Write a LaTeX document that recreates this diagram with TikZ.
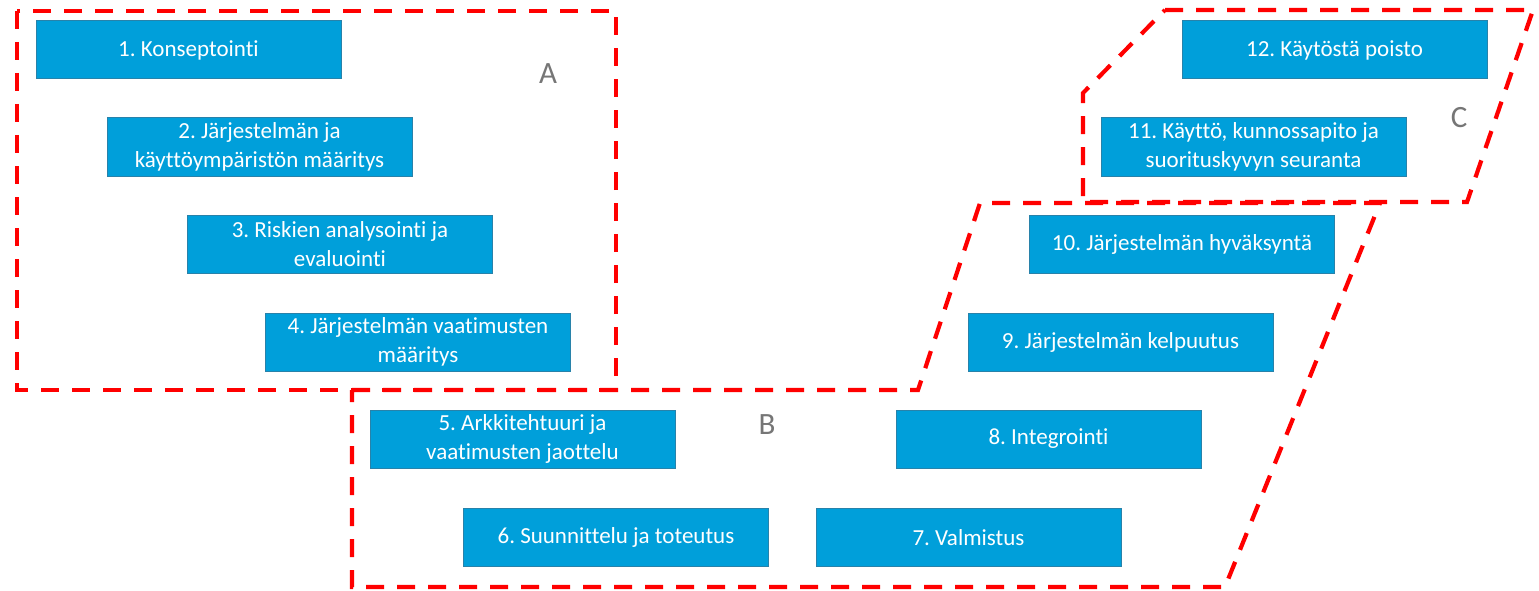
\documentclass[tikz,border=0pt]{standalone}
\usepackage{fontspec}
\setmainfont{Carlito}[RawFeature=-liga]
\frenchspacing
\definecolor{boxblue}{RGB}{0,159,218}
\definecolor{boxedge}{RGB}{40,130,170}
\definecolor{zonered}{RGB}{255,0,0}
\definecolor{zonegray}{RGB}{118,118,118}
\tikzset{
  phase/.style={draw=boxedge, line width=1pt, fill=boxblue, text=white,
    minimum width=305pt, minimum height=58pt, inner sep=2pt,
    align=center, font=\fontsize{23}{28.5}\selectfont},
  zone/.style={draw=zonered, line width=4.2pt, dash pattern=on 18pt off 13pt},
  zonelabel/.style={text=zonegray, font=\fontsize{31}{31}\selectfont}
}
\begin{document}
\begin{tikzpicture}[x=1pt,y=-1pt]
\useasboundingbox (0,0) rectangle (1539,591);

% life-cycle stages
\node[phase] (p1)  at (188.5,50)  {1. Konseptointi};
\node[phase] (p2)  at (259.5,147) {2. Järjestelmän ja\\käyttöympäristön määritys};
\node[phase] (p3)  at (340,244)   {3. Riskien analysointi ja\\evaluointi};
\node[phase] (p4)  at (418,342)   {4. Järjestelmän vaatimusten\\määritys};
\node[phase] (p5)  at (522.5,439) {5. Arkkitehtuuri ja\\vaatimusten jaottelu};
\node[phase] (p6)  at (616,537.5) {6. Suunnittelu ja toteutus};
\node[phase] (p7)  at (968.5,537.5) {7. Valmistus};
\node[phase] (p8)  at (1048.5,439) {8. Integrointi};
\node[phase] (p9)  at (1120.5,342) {9. Järjestelmän kelpuutus};
\node[phase] (p10) at (1182,244)  {10. Järjestelmän hyväksyntä};
\node[phase] (p11) at (1253.5,147) {11. Käyttö, kunnossapito ja\\suorituskyvyn seuranta};
\node[phase] (p12) at (1334.5,50) {12. Käytöstä poisto};

% grouping zones
\coordinate (a1) at (17,11);
\coordinate (a2) at (616,390);
\draw[zone] (a1) rectangle (a2);

\coordinate (b1) at (352,390);
\coordinate (b2) at (918,390);
\coordinate (b3) at (980,203);
\coordinate (b4) at (1380,203);
\coordinate (b5) at (1225,587);
\coordinate (b6) at (352,587);
\draw[zone] (b1) -- (b2) -- (b3) -- (b4) -- (b5) -- (b6) -- cycle;

\coordinate (c1) at (1165,10);
\coordinate (c2) at (1533,10);
\coordinate (c3) at (1467,202);
\coordinate (c4) at (1083,202);
\coordinate (c5) at (1083,93);
\draw[zone] (c1) -- (c2) -- (c3) -- (c4) -- (c5) -- cycle;

\node[zonelabel] (la) at (548,74)  {A};
\node[zonelabel] (lb) at (767,425) {B};
\node[zonelabel] (lc) at (1459,118) {C};
\end{tikzpicture}
\end{document}
